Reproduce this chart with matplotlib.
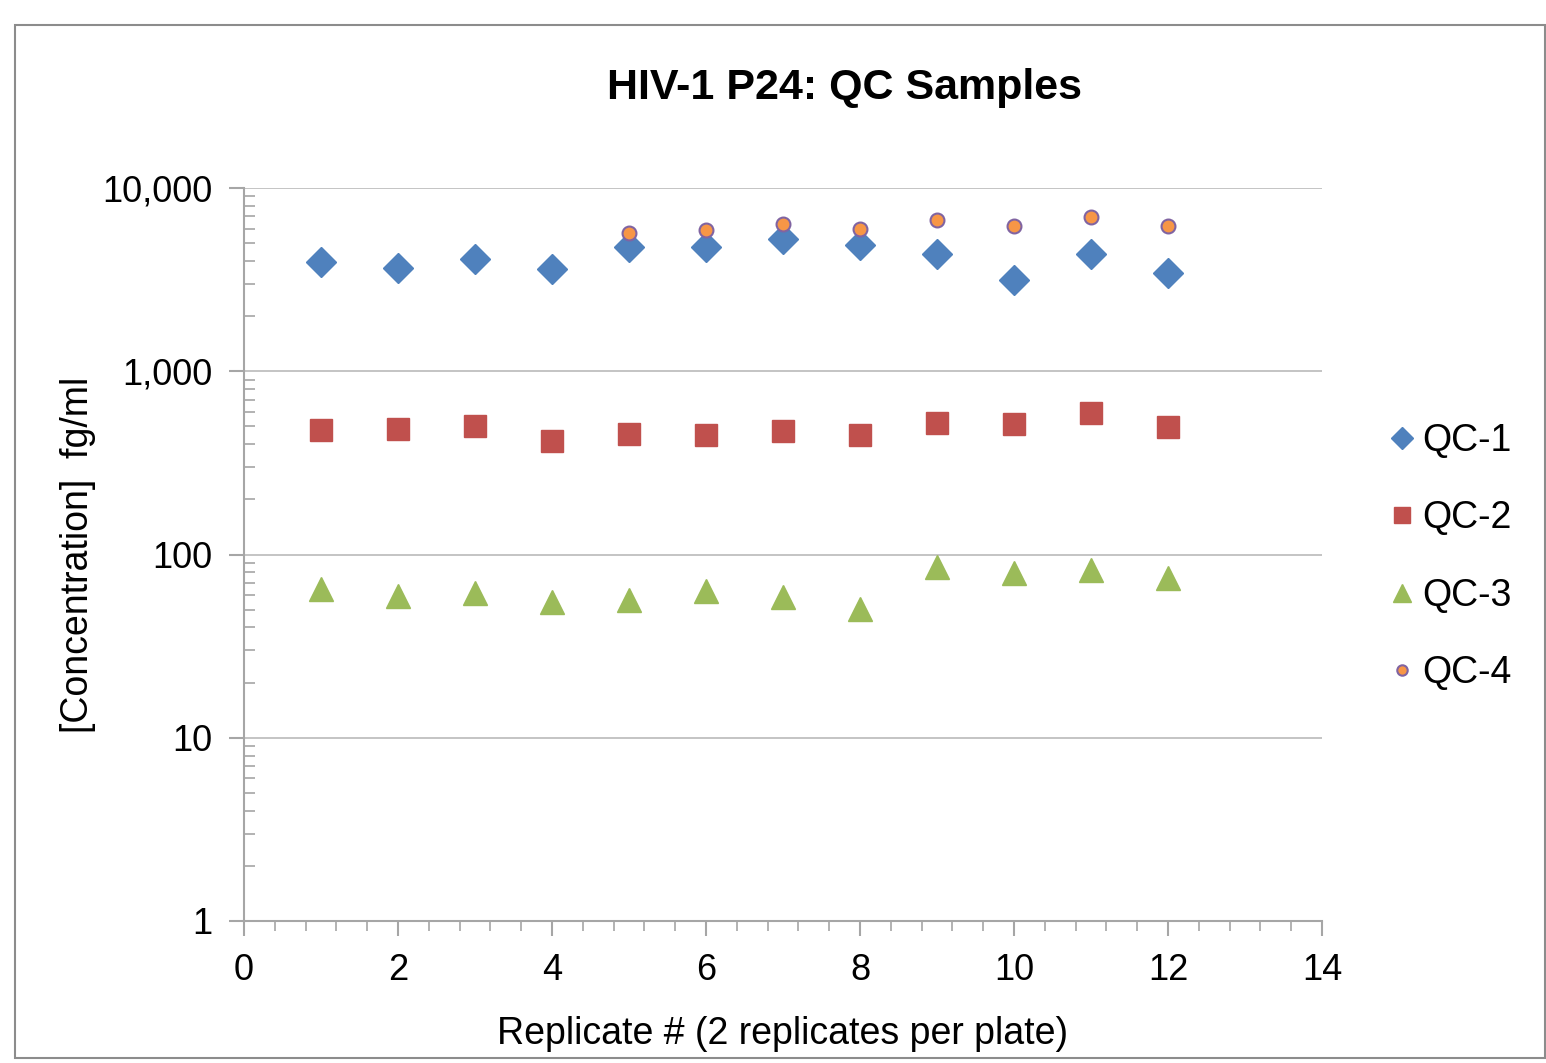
import matplotlib
matplotlib.use("Agg")
import matplotlib.pyplot as plt
import matplotlib.ticker as mticker
from matplotlib.patches import Rectangle

plt.rcParams['font.family'] = ['Liberation Sans', 'DejaVu Sans']

replicates = [1, 2, 3, 4, 5, 6, 7, 8, 9, 10, 11, 12]
qc1 = [3950, 3660, 4100, 3610, 4770, 4770, 5270, 4890, 4370, 3150, 4370, 3440]
qc2 = [478, 484, 503, 416, 455, 447, 474, 447, 522, 515, 592, 496]
qc3 = [64.8, 59.4, 61.7, 55.1, 56.5, 63.2, 58.6, 50.4, 85.5, 79.2, 82.2, 74.5]
qc4_x = [5, 6, 7, 8, 9, 10, 11, 12]
qc4 = [5680, 5900, 6370, 5970, 6690, 6200, 6950, 6200]

fig = plt.figure(figsize=(15.46, 10.63), dpi=100)
fig.patches.append(Rectangle((15/1546, 1 - 1058/1063), 1530/1546, 1033/1063,
                             transform=fig.transFigure, fill=False,
                             edgecolor='#8c8c8c', linewidth=1.5))
ax = fig.add_axes([244/1546, 1 - 921/1063, 1078/1546, 733/1063])

ax.plot(replicates, qc1, linestyle='none', marker='D', ms=15, color='#4F81BD',
        mec='#4F81BD', label='QC-1', zorder=3)
ax.plot(replicates, qc2, linestyle='none', marker='s', ms=16, color='#C0504D',
        mec='#C0504D', label='QC-2', zorder=3)
ax.plot(replicates, qc3, linestyle='none', marker='^', ms=17, color='#9BBB59',
        mec='#9BBB59', label='QC-3', zorder=3)
ax.plot(qc4_x, qc4, linestyle='none', marker='o', ms=10, color='#F79646',
        mec='#8064A2', mew=1.5, label='QC-4', zorder=4)

ax.set_yscale('log')
ax.set_ylim(1, 10000)
ax.set_xlim(0, 14)
ax.set_xticks(range(0, 15, 2))
ax.xaxis.set_minor_locator(mticker.MultipleLocator(0.4))
ax.yaxis.set_major_locator(mticker.LogLocator(base=10, numticks=10))
ax.yaxis.set_minor_locator(mticker.LogLocator(base=10, subs=range(2, 10), numticks=20))
ax.yaxis.set_minor_formatter(mticker.NullFormatter())
ax.yaxis.set_major_formatter(mticker.FuncFormatter(lambda v, p: f"{int(round(v)):,}"))

ax.grid(True, which='major', axis='y', color='#bfbfbf', linewidth=1.3)
for s in ['top', 'right']:
    ax.spines[s].set_visible(False)
for s in ['left', 'bottom']:
    ax.spines[s].set_color('#a6a6a6')
    ax.spines[s].set_linewidth(1.5)

ax.tick_params(axis='both', which='major', labelsize=26, color='#a6a6a6',
               width=1.5, length=11, pad=12)
ax.tick_params(axis='y', which='minor', direction='in', color='#a6a6a6',
               width=1.2, length=8)
ax.tick_params(axis='x', which='minor', direction='out', color='#a6a6a6',
               width=1.2, length=7)

ax.set_xlabel('Replicate # (2 replicates per plate)', fontsize=27, labelpad=20)
ax.set_ylabel('[Concentration]  fg/ml', fontsize=27, labelpad=4)
fig.text(845/1546, 1 - 88/1063, 'HIV-1 P24: QC Samples', fontsize=31,
         fontweight='bold', ha='center', va='center')

leg = fig.legend(loc='center left', bbox_to_anchor=(1383/1546, 1 - 557/1063),
                 frameon=False, fontsize=27, handletextpad=0.05, borderpad=0,
                 borderaxespad=0, labelspacing=1.1, handlelength=1.0,
                 markerscale=0.75)

fig.savefig('out.png', dpi=100)
